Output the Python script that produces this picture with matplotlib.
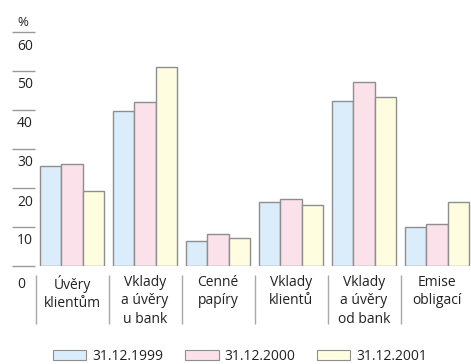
import matplotlib
matplotlib.use("Agg")
import matplotlib.pyplot as plt
import numpy as np
from matplotlib.patches import Patch

plt.rcParams['font.family'] = ['Open Sans', 'DejaVu Sans']

categories = ["Úvěry\nklientům", "Vklady\na úvěry\nu bank", "Cenné\npapíry",
              "Vklady\nklientů", "Vklady\na úvěry\nod bank", "Emise\nobligací"]
series_names = ["31.12.1999", "31.12.2000", "31.12.2001"]
v1999 = [25.6, 39.7, 6.3, 16.5, 42.2, 9.9]
v2000 = [26.2, 42.1, 8.1, 17.2, 47.3, 10.7]
v2001 = [19.3, 51.1, 7.2, 15.6, 43.4, 16.5]
yticks = [0, 10, 20, 30, 40, 50, 60]
colors = ["#dbedfb", "#fbe1ea", "#fefde0"]
edge = "#8e8e8e"
txt = "#222222"

W, H = 471, 364
fig = plt.figure(figsize=(W/100, H/100), dpi=100)
ax_left, ax_right, ax_bot, ax_top = 12, 471, 266, 32
ax = fig.add_axes([ax_left/W, (H-ax_bot)/H, (ax_right-ax_left)/W, (ax_bot-ax_top)/H])
ax.set_axis_off()

period = 73.0
xmin = -(72-ax_left)/period
xmax = xmin + (ax_right-ax_left)/period
ax.set_xlim(xmin, xmax)
ax.set_ylim(0, 60)

x = np.arange(len(categories))
bw = 21.4/period
for k, vals in enumerate([v1999, v2000, v2001]):
    ax.bar(x + (k-1)*bw, vals, width=bw, color=colors[k], edgecolor=edge,
           linewidth=1.0, zorder=3)

# y tick lines and labels
ytr = ax.get_yaxis_transform()
aw = ax_right - ax_left
ah = ax_bot - ax_top
tick_w = 23/aw
ax.hlines(yticks, 0, tick_w, transform=ytr, color="#9a9a9a", linewidth=1.0, clip_on=False)
pxy = 60/ah
for t in yticks:
    off = 18 if t == 0 else 14
    ax.text(5/aw, t - off*pxy, str(t), transform=ytr, ha='left', va='center',
            fontsize=10, color=txt, clip_on=False)
ax.text(5/aw, 60 + 10*pxy, "%", transform=ytr, ha='left', va='center',
        fontsize=9.5, color=txt, clip_on=False)

# category labels and separators
xtr = ax.get_xaxis_transform()
ax.vlines(x - 0.5, -9/ah, -58/ah, transform=xtr,
          color="#a8a8a8", linewidth=1.0, clip_on=False)
for i, c in enumerate(categories):
    ax.text(i, -9/ah, c, transform=xtr, ha='center', va='top', fontsize=10,
            color=txt, linespacing=1.3, clip_on=False)

handles = [Patch(facecolor=colors[k], edgecolor=edge, linewidth=0.8) for k in range(3)]
fig.legend(handles, series_names, loc='center', bbox_to_anchor=(240/W, 1-356/H),
           ncol=3, frameon=False, fontsize=10, handlelength=2.4, handleheight=0.75,
           handletextpad=0.4, columnspacing=1.6, borderpad=0,
           labelcolor=txt)

fig.savefig("out.png", dpi=100)
